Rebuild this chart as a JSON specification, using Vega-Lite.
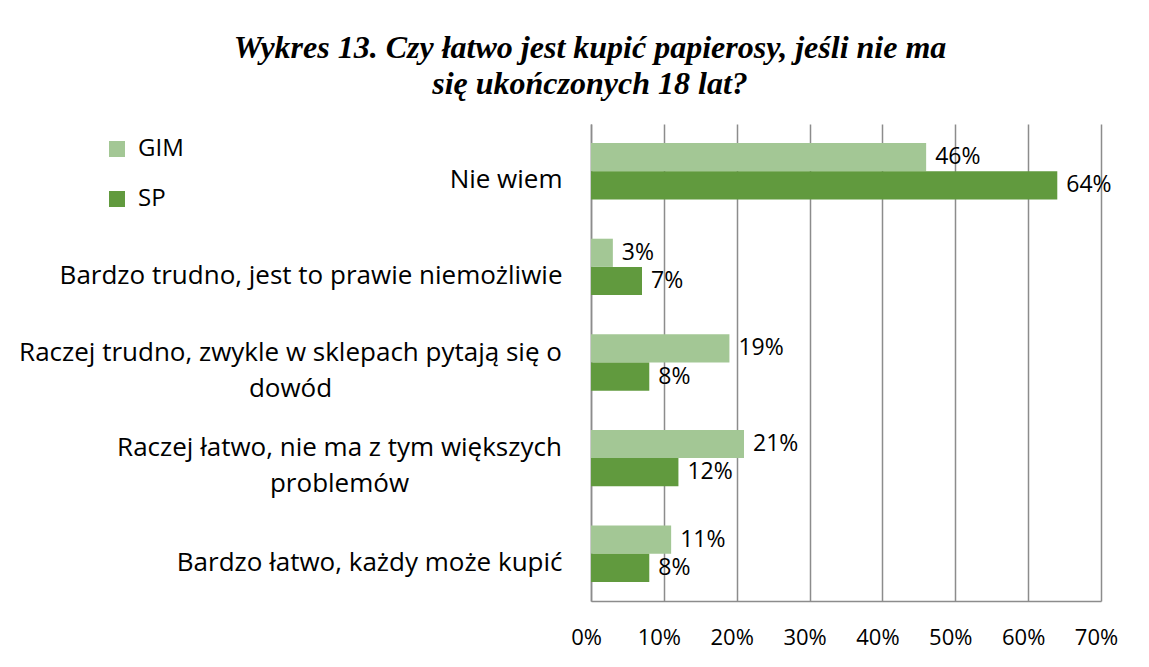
{
  "$schema": "https://vega.github.io/schema/vega-lite/v6.json",
  "width": 510,
  "height": 477,
  "autosize": {"type": "none"},
  "padding": {"left": 591, "top": 124, "right": 48, "bottom": 66},
  "background": "white",
  "title": {
    "text": ["Wykres 13. Czy łatwo jest kupić papierosy, jeśli nie ma", "się ukończonych 18 lat?"],
    "font": "Liberation Serif",
    "fontSize": 32,
    "fontStyle": "italic",
    "fontWeight": "bold",
    "color": "black",
    "anchor": "middle",
    "frame": "group",
    "dx": -256,
    "offset": 23,
    "lineHeight": 36
  },
  "data": {
    "values": [
      {"kategoria": "Nie wiem", "grupa": "GIM", "wartosc": 0.46},
      {"kategoria": "Nie wiem", "grupa": "SP", "wartosc": 0.64},
      {"kategoria": "Bardzo trudno, jest to prawie niemożliwie", "grupa": "GIM", "wartosc": 0.03},
      {"kategoria": "Bardzo trudno, jest to prawie niemożliwie", "grupa": "SP", "wartosc": 0.07},
      {"kategoria": "Raczej trudno, zwykle w sklepach pytają się o dowód", "grupa": "GIM", "wartosc": 0.19},
      {"kategoria": "Raczej trudno, zwykle w sklepach pytają się o dowód", "grupa": "SP", "wartosc": 0.08},
      {"kategoria": "Raczej łatwo, nie ma z tym większych problemów", "grupa": "GIM", "wartosc": 0.21},
      {"kategoria": "Raczej łatwo, nie ma z tym większych problemów", "grupa": "SP", "wartosc": 0.12},
      {"kategoria": "Bardzo łatwo, każdy może kupić", "grupa": "GIM", "wartosc": 0.11},
      {"kategoria": "Bardzo łatwo, każdy może kupić", "grupa": "SP", "wartosc": 0.08}
    ]
  },
  "encoding": {
    "y": {
      "field": "kategoria",
      "type": "nominal",
      "sort": null,
      "scale": {"paddingInner": 0.41, "paddingOuter": 0.2},
      "axis": {
        "title": null,
        "domain": true,
        "domainColor": "#8c8c8c",
        "domainWidth": 1.5,
        "ticks": false,
        "labelFont": "Open Sans",
        "labelFontSize": 26,
        "labelColor": "black",
        "labelLimit": 0,
        "labelLineHeight": 36,
        "labelOffset": {"condition": {"test": "length(datum.value) > 42", "value": -10}, "value": 9},
        "labelAlign": {"condition": {"test": "length(datum.value) > 42", "value": "center"}, "value": "right"},
        "labelPadding": {"condition": [
          {"test": "datum.value == 'Raczej trudno, zwykle w sklepach pytają się o dowód'", "value": 301},
          {"test": "datum.value == 'Raczej łatwo, nie ma z tym większych problemów'", "value": 252}
        ], "value": 29},
        "labelExpr": "datum.value == 'Raczej trudno, zwykle w sklepach pytają się o dowód' ? ['Raczej trudno, zwykle w sklepach pytają się o', 'dowód'] : datum.value == 'Raczej łatwo, nie ma z tym większych problemów' ? ['Raczej łatwo, nie ma z tym większych', 'problemów'] : datum.value"
      }
    },
    "yOffset": {"field": "grupa", "type": "nominal", "sort": ["GIM", "SP"], "scale": {"paddingInner": 0}},
    "x": {
      "field": "wartosc",
      "type": "quantitative",
      "scale": {"domain": [0, 0.7], "nice": false},
      "axis": {
        "title": null,
        "format": ".0%",
        "values": [0, 0.1, 0.2, 0.3, 0.4, 0.5, 0.6, 0.7],
        "domain": true,
        "domainColor": "#8c8c8c",
        "domainWidth": 1.5,
        "ticks": false,
        "grid": true,
        "gridColor": "#8c8c8c",
        "gridWidth": 1.5,
        "labelFont": "Open Sans",
        "labelFontSize": 22,
        "labelColor": "black",
        "labelPadding": 26,
        "labelFlush": false,
        "labelOffset": -5
      }
    }
  },
  "layer": [
    {
      "mark": {"type": "bar"},
      "encoding": {
        "color": {
          "field": "grupa",
          "type": "nominal",
          "sort": ["GIM", "SP"],
          "scale": {"domain": ["GIM", "SP"], "range": ["#a3c795", "#619a3e"]},
          "legend": {
            "title": null,
            "orient": "none",
            "legendX": -486,
            "legendY": 13,
            "symbolType": "square",
            "symbolSize": 256,
            "symbolStrokeWidth": 0,
            "labelFont": "Open Sans",
            "labelFontSize": 24,
            "labelColor": "black",
            "labelOffset": 9,
            "rowPadding": 26,
            "padding": 0
          }
        }
      }
    },
    {
      "mark": {"type": "text", "align": "left", "baseline": "middle", "dx": 9, "font": "Open Sans", "fontSize": 23, "color": "black"},
      "encoding": {
        "text": {"field": "wartosc", "type": "quantitative", "format": ".0%"}
      }
    }
  ],
  "config": {
    "view": {"stroke": null}
  }
}
